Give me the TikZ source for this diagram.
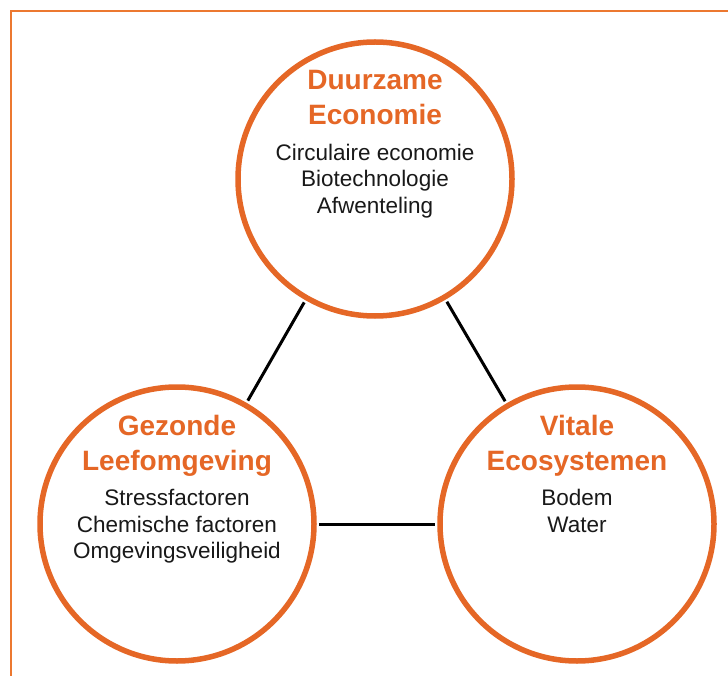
\documentclass[tikz,border=0pt]{standalone}
\usepackage{fontspec}
\setmainfont{Liberation Sans}
\usetikzlibrary{positioning}
\definecolor{ringorange}{RGB}{229,103,38}
\definecolor{frameorange}{RGB}{236,120,48}
\definecolor{bodygray}{RGB}{25,25,25}

\begin{document}
\begin{tikzpicture}[x=1pt, y=-1pt,
    headtext/.style={align=center, inner sep=0pt, anchor=base, text=ringorange,
      font=\fontsize{28}{35}\selectfont\bfseries},
    bodytext/.style={align=center, inner sep=0pt, anchor=base, text=bodygray,
      font=\fontsize{22.5}{26.5}\selectfont},
    link/.style={line width=3pt, shorten <=2.5pt, shorten >=2.5pt}]
	\useasboundingbox (0,0) rectangle (728,676);
	\draw[frameorange, line width=2pt] (11,700) |- (750,11);
	
	\begin{scope}[every node/.style={circle, draw=ringorange, fill=white, line width=5.5pt, minimum size=274pt, inner sep=0pt}]
		\node (D) at (375,179) {};
		\node (G) at (177,524) {};
		\node (V) at (577,524) {};
	\end{scope}
	
	% base anchor sits on the last line
	\node[headtext] (Dhead) at ([yshift=54pt]D.center) {Duurzame\\Economie};
	\node[bodytext] (Dbody) at ([yshift=-34.5pt]D.center) {Circulaire economie\\Biotechnologie\\Afwenteling};
	\node[headtext] (Ghead) at ([yshift=54pt]G.center) {Gezonde\\Leefomgeving};
	\node[bodytext] (Gbody) at ([yshift=-34.5pt]G.center) {Stressfactoren\\Chemische factoren\\Omgevingsveiligheid};
	\node[headtext] (Vhead) at ([yshift=54pt]V.center) {Vitale\\Ecosystemen};
	\node[bodytext] (Vbody) at ([yshift=-8pt]V.center) {Bodem\\Water};
	
	\draw[link] (D) edge (G)
	(G) edge (V)
	(V) edge (D);
\end{tikzpicture}
\end{document}
